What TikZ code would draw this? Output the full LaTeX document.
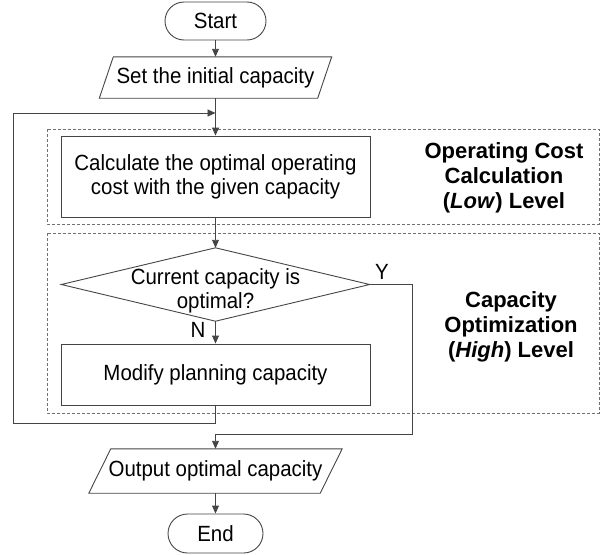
\documentclass[tikz,border=0pt]{standalone}
\usepackage{fontspec}
\setmainfont{Liberation Sans}
\newfontfamily\nfont[FakeStretch=0.93]{Liberation Sans}
\usetikzlibrary{arrows.meta,calc}
\definecolor{linec}{HTML}{454545}
\definecolor{zonec}{HTML}{707070}
\begin{document}
\begin{tikzpicture}[x=1pt,y=-1pt,
  line/.style={draw=linec, line width=0.9pt},
  arr/.style={line, -{Triangle[length=8pt,width=7pt]}},
  txt/.style={font=\nfont\fontsize{22}{24}\selectfont, align=center, inner sep=0pt},
  box/.style={txt, draw=linec, line width=0.9pt},
  term/.style={box, rounded corners=19pt},
  zone/.style={draw=zonec, line width=0.8pt, dash pattern=on 3pt off 2pt},
  lvl/.style={font=\bfseries\fontsize{22}{25}\selectfont, align=center, inner sep=0pt}
]
\useasboundingbox (0,0) rectangle (609,554);

% level zones
\draw[zone] (47,129) rectangle (599,224);
\draw[zone] (47,233) rectangle (599,413);

% nodes
\node[term, minimum width=101, minimum height=38] (start) at (215.5,21) {Start};

\node[txt, minimum width=218, minimum height=41] (set) at (215.5,77.5) {Set the initial capacity};
\draw[line] ([xshift=-7pt]set.south west) -- ([xshift=7pt]set.north west)
  -- ([xshift=7pt]set.north east) -- ([xshift=-7pt]set.south east) -- cycle;

\node[box, minimum width=309, minimum height=81] (calc) at (215.5,176.5)
  {Calculate the optimal operating\\cost with the given capacity};

\node[inner sep=0pt, minimum width=308, minimum height=73] (dia) at (215.5,284.5) {};
\draw[line] (dia.north) -- (dia.east) -- (dia.south) -- (dia.west) -- cycle;
\node[txt] (diatext) at (215.5,290.5) {Current capacity is\\optimal?};

\node[box, minimum width=309, minimum height=61] (mod) at (215.5,374.5) {Modify planning capacity};

\node[txt, minimum width=231, minimum height=44] (out) at (215.5,471) {Output optimal capacity};
\draw[line] ([xshift=-11pt]out.south west) -- ([xshift=11pt]out.north west)
  -- ([xshift=11pt]out.north east) -- ([xshift=-11pt]out.south east) -- cycle;

\node[box, rounded corners=19.5pt, minimum width=95, minimum height=39] (end) at (215.5,533.5) {End};

% labels
\node[txt] (ylab) at (382,272) {Y};
\node[txt] (nlab) at (198,330) {N};
\node[lvl] (low) at (504,178) {Operating Cost\\Calculation\\(\textit{Low}) Level};
\node[lvl] (high) at (511,327) {Capacity\\Optimization\\(\textit{High}) Level};

% connectors
\coordinate (join) at (215.5,113);
\coordinate (lb) at (13,423);
\coordinate (yb) at (412,434);
\draw[arr] (start) -- (set);
\draw[line] (set) -- (join);
\draw[arr] (join) -- (calc);
\draw[arr] (calc) -- (dia.north);
\draw[arr] (dia.south) -- (mod);
\draw[arr] (mod.south) |- (lb) |- (join);
\draw[arr] (dia.east) -| (yb) -| (out.north);
\draw[arr] (out) -- (end);
\end{tikzpicture}
\end{document}
